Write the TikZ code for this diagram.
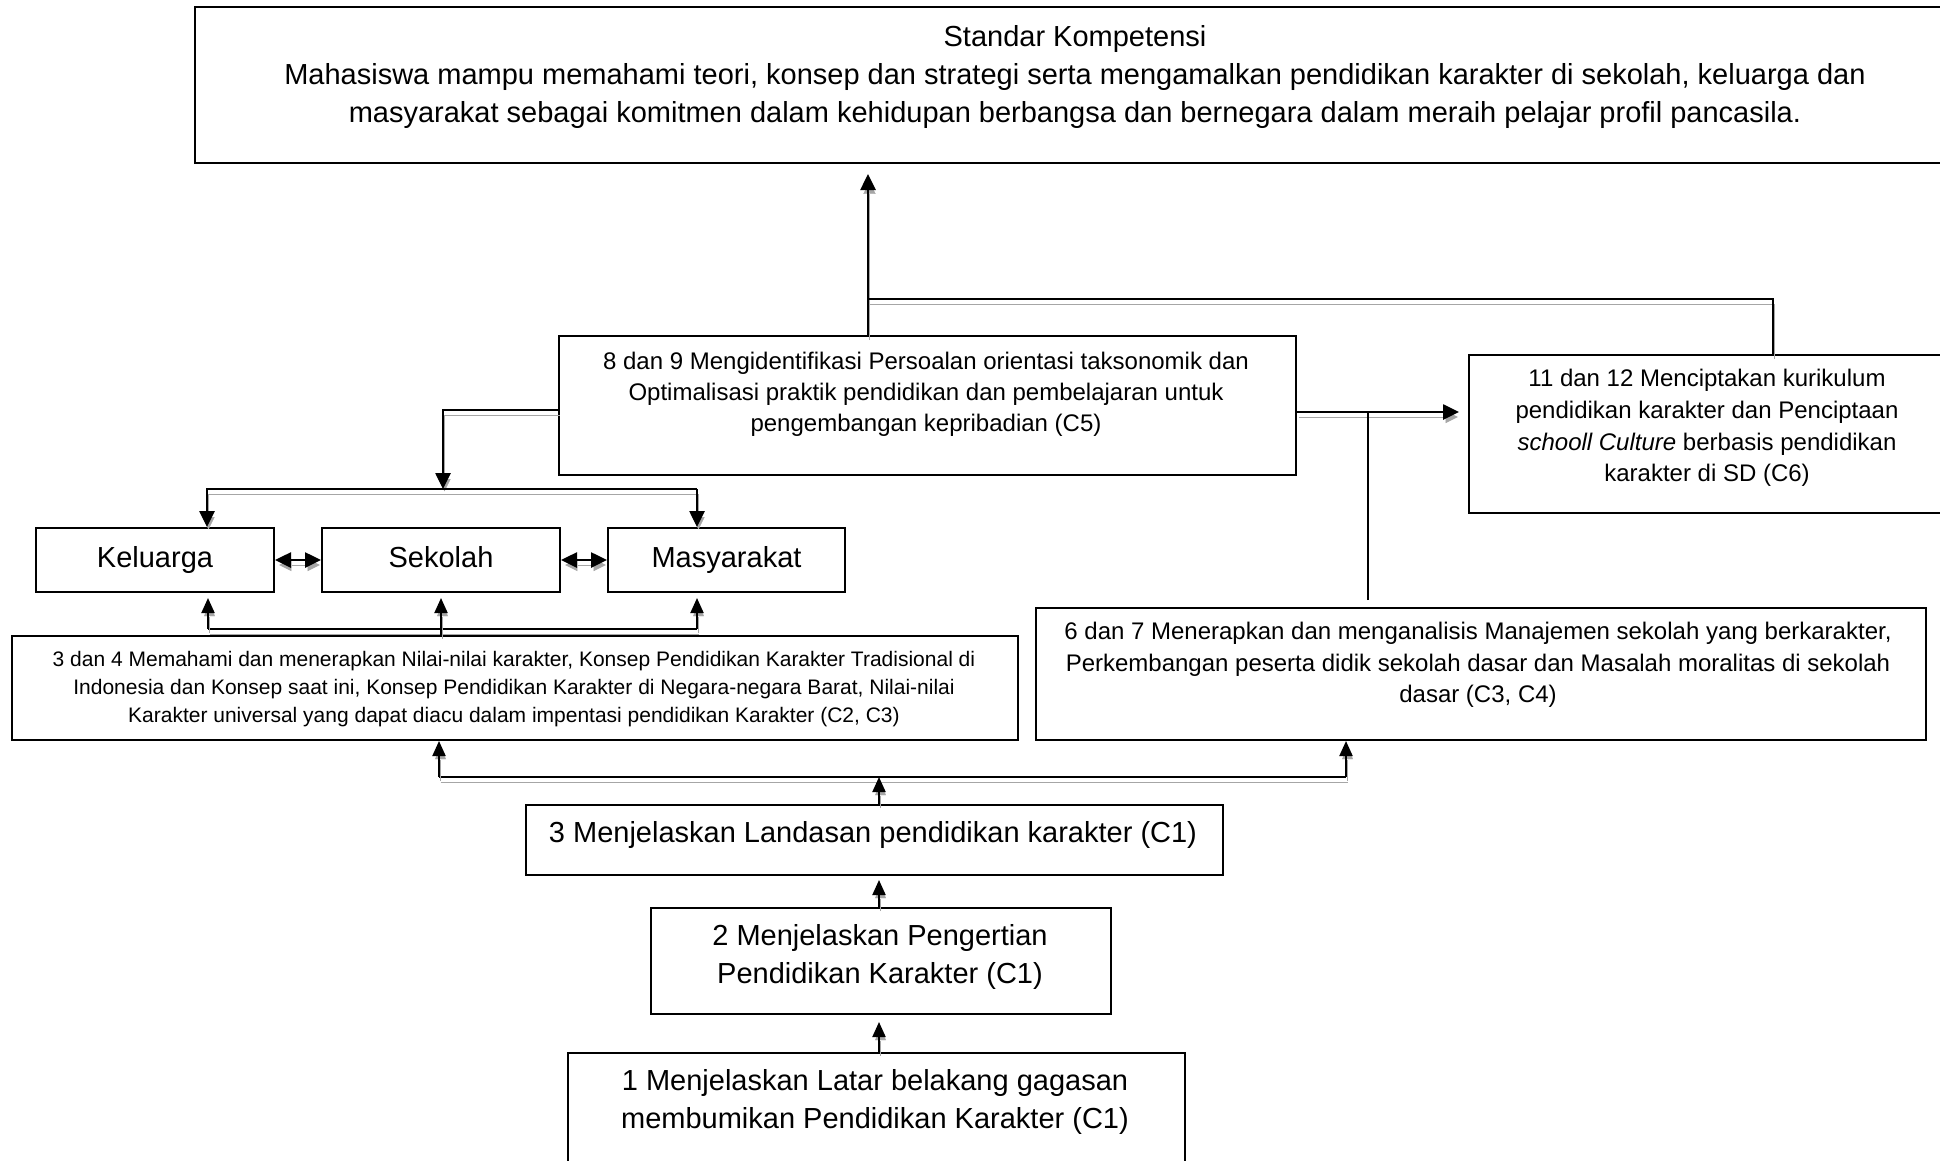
\documentclass[tikz,border=0pt]{standalone}
\usepackage{fontspec}
\setmainfont{Liberation Sans}
\usetikzlibrary{arrows.meta}

\tikzset{
  kotak/.style={draw, line width=2pt, inner sep=0pt, anchor=north west},
  garis/.style={line width=2.6pt, preaction={draw=gray!70, transform canvas={xshift=1.5pt,yshift=-5pt}}},
  panah/.style={garis, -{Triangle[length=16pt,width=15pt]}},
  panahk/.style={line width=2pt, -{Triangle[length=15pt,width=13pt]}, preaction={draw=gray!70, transform canvas={xshift=1.5pt,yshift=-4pt}}},
  panahd/.style={garis, {Triangle[length=16pt,width=15pt]}-{Triangle[length=16pt,width=15pt]}},
  besar/.style={font=\fontsize{29pt}{38pt}\selectfont, align=center},
  satu/.style={text height=21pt, text depth=6pt},
  sedang/.style={font=\fontsize{24pt}{31pt}\selectfont, align=center},
}

\begin{document}
\begin{tikzpicture}[x=1pt,y=-1pt]
    \useasboundingbox (0,0) rectangle (1940,1160);
    % kotak-kotak
    \node[kotak, minimum width=1760pt, minimum height=156pt] (sk) at (194,6) {};
    \node[font=\fontsize{29pt}{38pt}\selectfont, align=center] (sktxt) at (1075,77) {Standar Kompetensi\\
      Mahasiswa mampu memahami teori, konsep dan strategi serta mengamalkan pendidikan karakter di sekolah, keluarga dan\\
      masyarakat sebagai komitmen dalam kehidupan berbangsa dan bernegara dalam meraih pelajar profil pancasila.};
    \node[kotak, minimum width=737pt, minimum height=139pt] (c5) at (558,335) {};
    \node[sedang] (c5txt) at (926,394) {8 dan 9 Mengidentifikasi Persoalan orientasi taksonomik dan\\
      Optimalisasi praktik pendidikan dan pembelajaran untuk\\
      pengembangan kepribadian (C5)};
    \node[kotak, minimum width=480pt, minimum height=158pt] (c6) at (1468,354) {};
    \node[font=\fontsize{24pt}{31.7pt}\selectfont, align=center] (c6txt) at (1707,428) {11 dan 12 Menciptakan kurikulum\\
      pendidikan karakter dan Penciptaan\\
      \textit{schooll Culture} berbasis pendidikan\\
      karakter di SD (C6)};
    \node[kotak, besar, satu, minimum width=238pt, minimum height=64pt] (kel) at (35,527) {Keluarga};
    \node[kotak, besar, satu, minimum width=238pt, minimum height=64pt] (sek) at (321,527) {Sekolah};
    \node[kotak, besar, satu, minimum width=237pt, minimum height=64pt] (mas) at (607,527) {Masyarakat};
    \node[kotak, minimum width=1006pt, minimum height=104pt] (c23) at (11,635) {};
    \node[font=\fontsize{21pt}{28pt}\selectfont, align=center] (c23txt) at (514,689) {3 dan 4 Memahami dan menerapkan Nilai-nilai karakter, Konsep Pendidikan Karakter Tradisional di\\
      Indonesia dan Konsep saat ini, Konsep Pendidikan Karakter di Negara-negara Barat, Nilai-nilai\\
      Karakter universal yang dapat diacu dalam impentasi pendidikan Karakter (C2, C3)};
    \node[kotak, minimum width=890pt, minimum height=132pt] (c34) at (1035,607) {};
    \node[font=\fontsize{24pt}{31.5pt}\selectfont, align=center] (c34txt) at (1478,665) {6 dan 7 Menerapkan dan menganalisis Manajemen sekolah yang berkarakter,\\
      Perkembangan peserta didik sekolah dasar dan Masalah moralitas di sekolah\\
      dasar (C3, C4)};
    \node[kotak, minimum width=697pt, minimum height=70pt] (c1c) at (525,804) {};
    \node[besar] (c1ctxt) at (873,835) {3 Menjelaskan Landasan pendidikan karakter (C1)};
    \node[kotak, minimum width=460pt, minimum height=106pt] (c1b) at (650,907) {};
    \node[besar] (c1btxt) at (880,957) {2 Menjelaskan Pengertian\\ Pendidikan Karakter (C1)};
    \node[kotak, minimum width=617pt, minimum height=200pt] (c1a) at (567,1052) {};
    \node[besar] (c1atxt) at (875,1102) {1 Menjelaskan Latar belakang gagasan\\ membumikan Pendidikan Karakter (C1)};
    % titik bantu
    \coordinate (atas) at (868,174);
    \coordinate (j1) at (868,299);
    \coordinate (k6) at (1773,299);
    \coordinate (k5) at (1368,412);
    \coordinate (k1) at (443,410);
    \coordinate (k2) at (443,489);
    \coordinate (k3) at (207,489);
    \coordinate (k4) at (697,489);
    \coordinate (b1) at (208,629);
    \coordinate (b2) at (697,629);
    \coordinate (d1) at (439,777);
    \coordinate (d2) at (1346,777);
    \coordinate (d3) at (879,777);
    % garis atas
    \draw[panah] (c5.north -| atas) -- (atas);
    \draw[garis] (j1) -- (k6) -- (k6 |- c6.north);
    \draw[panah, shorten >=9pt] (c5.east |- k5) -- (c6.west |- k5);
    \draw[line width=2.2pt, shorten <=7pt] (c34.north -| k5) -- (k5);
    % ke keluarga, sekolah, masyarakat
    \draw[panah] (c5.west |- k1) -- (k1) -- (k2);
    \draw[panah] (k4) -- (k3) -- (k3 |- kel.north);
    \draw[panah] (k4) -- (k4 |- mas.north);
    \draw[panahd] (kel.east) -- (sek.west);
    \draw[panahd] (sek.east) -- (mas.west);
    \draw[garis] (b1) -- (b2);
    \draw[panahk, shorten >=5pt] (b1) -- (b1 |- kel.south);
    \draw[panahk, shorten >=5pt] (b2) -- (b2 |- mas.south);
    \draw[panahk, shorten >=5pt] (c23.north -| sek) -- (sek.south);
    % garis bawah
    \draw[garis] (d1) -- (d2);
    \draw[panahk] (d1) -- (d1 |- c23.south);
    \draw[panahk] (d2) -- (d2 |- c34.south);
    \draw[panahk] (c1c.north -| d3) -- (d3);
    \draw[panahk, shorten >=4pt] (c1b.north -| d3) -- (d3 |- c1c.south);
    \draw[panahk, shorten >=7pt] (c1a.north -| d3) -- (d3 |- c1b.south);
\end{tikzpicture}
\end{document}
